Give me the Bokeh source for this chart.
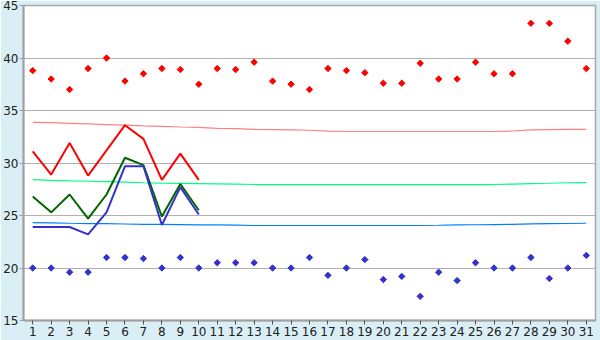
import math
from bokeh.plotting import figure
from bokeh.models import Range1d, FixedTicker
from bokeh.embed import file_html
from bokeh.resources import INLINE

days = list(range(1, 32))
max_temp = [38.8, 38.0, 37.0, 39.0, 40.0, 37.8, 38.5, 39.0, 38.9, 37.5,
            39.0, 38.9, 39.6, 37.8, 37.5, 37.0, 39.0, 38.8, 38.6, 37.6,
            37.6, 39.5, 38.0, 38.0, 39.6, 38.5, 38.5, 43.3, 43.3, 41.6, 39.0]
min_temp = [20.0, 20.0, 19.6, 19.6, 21.0, 21.0, 20.9, 20.0, 21.0, 20.0,
            20.5, 20.5, 20.5, 20.0, 20.0, 21.0, 19.3, 20.0, 20.8, 18.9,
            19.2, 17.3, 19.6, 18.8, 20.5, 20.0, 20.0, 21.0, 19.0, 20.0, 21.2]
norm_max = [33.86, 33.84, 33.78, 33.72, 33.66, 33.6, 33.53, 33.48, 33.43, 33.4,
            33.3, 33.28, 33.2, 33.18, 33.15, 33.12, 33.03, 33.0, 33.0, 33.0,
            33.0, 33.0, 33.0, 33.0, 33.0, 33.0, 33.05, 33.15, 33.18, 33.2, 33.2]
norm_mean = [28.42, 28.35, 28.3, 28.26, 28.22, 28.17, 28.12, 28.08, 28.06, 28.04,
             28.01, 27.98, 27.95, 27.95, 27.95, 27.95, 27.95, 27.95, 27.95, 27.95,
             27.95, 27.95, 27.95, 27.95, 27.95, 27.95, 27.99, 28.04, 28.07, 28.12, 28.14]
norm_min = [24.33, 24.3, 24.26, 24.23, 24.22, 24.19, 24.16, 24.15, 24.13, 24.11,
            24.1, 24.08, 24.05, 24.05, 24.05, 24.05, 24.05, 24.05, 24.05, 24.05,
            24.05, 24.05, 24.07, 24.1, 24.12, 24.14, 24.16, 24.2, 24.22, 24.24, 24.26]
obs_days = list(range(1, 11))
obs_max = [31.1, 28.9, 31.9, 28.8, 31.2, 33.6, 32.3, 28.4, 30.9, 28.4]
obs_mean = [26.8, 25.3, 27.0, 24.7, 27.0, 30.5, 29.8, 24.9, 28.0, 25.5]
obs_min = [23.9, 23.9, 23.9, 23.2, 25.3, 29.7, 29.7, 24.1, 27.7, 25.1]

p = figure(width=600, height=340, output_backend="svg", toolbar_location=None,
           x_range=Range1d(0.5, 31.5), y_range=Range1d(15, 45),
           min_border_left=20, min_border_right=5, min_border_top=5, min_border_bottom=20)
p.background_fill_color = "white"
p.border_fill_color = "#d9eff5"
p.outline_line_color = "#a8a8a8"
p.outline_line_width = 1.5

p.xgrid.grid_line_color = None
p.ygrid.grid_line_color = "#b0b0b0"
p.ygrid.grid_line_width = 1

for ax in (p.xaxis[0], p.yaxis[0]):
    ax.axis_line_color = "#a0a0a0"
    ax.axis_line_width = 2
    ax.major_tick_line_color = "#505050"
    ax.major_tick_out = 4
    ax.major_tick_in = 0
    ax.minor_tick_line_color = None
    ax.major_label_text_font = "DejaVu Sans"
    ax.major_label_text_font_size = "12px"
    ax.major_label_text_color = "#202020"
    ax.major_label_standoff = 2

p.yaxis[0].major_tick_line_color = "#a0a0a0"
p.yaxis[0].major_label_standoff = 1
p.yaxis[0].ticker = FixedTicker(ticks=[15, 20, 25, 30, 35, 40, 45])
p.xaxis[0].ticker = FixedTicker(ticks=days)

p.line(days, norm_max, line_color="#ff8080", line_width=1.2)
p.line(days, norm_mean, line_color="#00ff80", line_width=1.2)
p.line(days, norm_min, line_color="#0080ff", line_width=1.2)

p.line(obs_days, obs_max, line_color="#ff0000", line_width=2)
p.line(obs_days, obs_mean, line_color="#006400", line_width=2)
p.line(obs_days, obs_min, line_color="#3333cc", line_width=2)

p.scatter(days, max_temp, marker="square", angle=math.pi / 4, size=4.5,
          fill_color="#ff0000", line_color="#ff0000", line_width=1)
p.scatter(days, min_temp, marker="square", angle=math.pi / 4, size=4.5,
          fill_color="#3333cc", line_color="#3333cc", line_width=1)

open("out.html", "w").write(file_html(p, INLINE))
